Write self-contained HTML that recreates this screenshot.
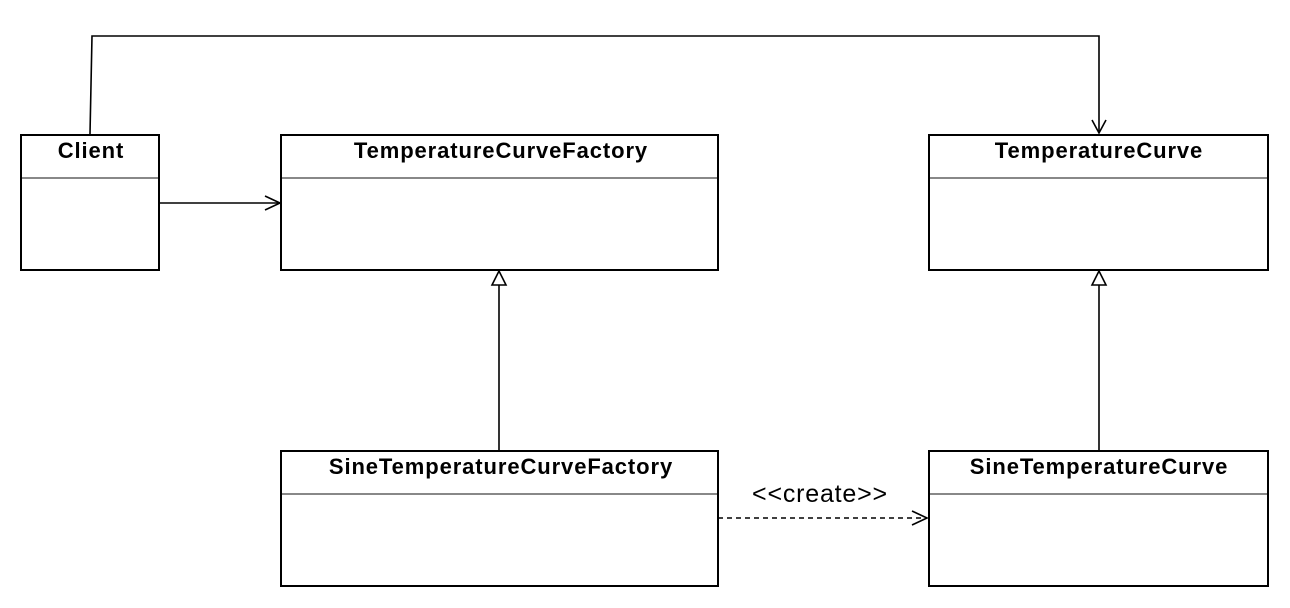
<!DOCTYPE html>
<html><head><style>body{margin:0;background:#fff}svg{display:block}</style></head><body>
<svg width="1290" height="608" xmlns="http://www.w3.org/2000/svg" font-family="Liberation Sans, Arial, sans-serif">
<g fill="#fff" stroke="#000" stroke-width="2">
<rect x="21" y="135" width="138" height="135"/>
<rect x="281" y="135" width="437" height="135"/>
<rect x="929" y="135" width="339" height="135"/>
<rect x="281" y="451" width="437" height="135"/>
<rect x="929" y="451" width="339" height="135"/>
</g>
<g stroke="#888" stroke-width="2">
<line x1="22" y1="178" x2="158" y2="178"/>
<line x1="282" y1="178" x2="717" y2="178"/>
<line x1="930" y1="178" x2="1267" y2="178"/>
<line x1="282" y1="494" x2="717" y2="494"/>
<line x1="930" y1="494" x2="1267" y2="494"/>
</g>
<g font-weight="bold" font-size="22" letter-spacing="0.9" text-anchor="middle">
<text x="91" y="158">Client</text>
<text x="501" y="158">TemperatureCurveFactory</text>
<text x="1099" y="158">TemperatureCurve</text>
<text x="501" y="474">SineTemperatureCurveFactory</text>
<text x="1099" y="474">SineTemperatureCurve</text>
</g>
<g fill="none" stroke="#000" stroke-width="1.6">
<polyline points="90,134 92,36 1099,36 1099,133"/>
<polyline points="1092,120 1099,133 1106,120"/>
<line x1="159" y1="203" x2="280" y2="203"/>
<polyline points="265,196 280,203 265,210"/>
<line x1="499" y1="451" x2="499" y2="285"/>
<polygon points="499,271 492,285 506,285"/>
<line x1="1099" y1="451" x2="1099" y2="285"/>
<polygon points="1099,271 1092,285 1106,285"/>
<line x1="718" y1="518" x2="927" y2="518" stroke-dasharray="5,4"/>
<polyline points="912,511 927,518 912,525"/>
</g>
<text x="820" y="502" font-size="25" letter-spacing="0.8" text-anchor="middle">&lt;&lt;create&gt;&gt;</text>
</svg>
</body></html>
